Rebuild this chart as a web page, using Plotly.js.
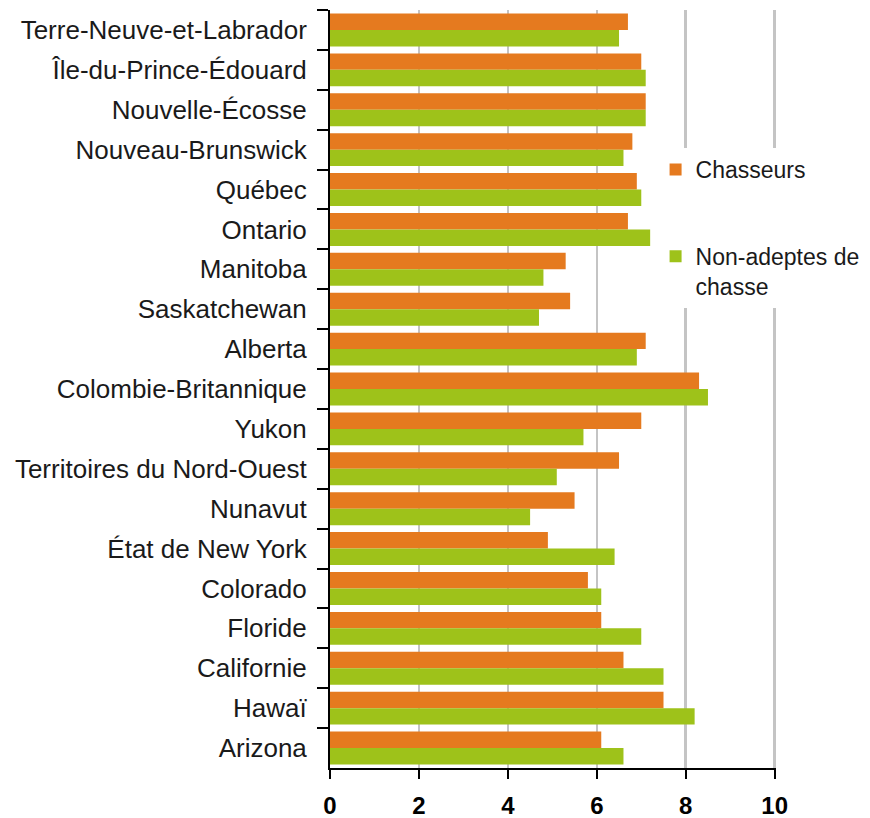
<!DOCTYPE html>
<html>
<head>
<meta charset="utf-8">
<script src="https://cdn.plot.ly/plotly-3.0.1.min.js"></script>
<style>
  html, body { margin: 0; padding: 0; background: #ffffff; }
  #chart { width: 870px; height: 818px; }
</style>
</head>
<body>
<div id="chart"></div>
<script>
const categories = [
  "Terre-Neuve-et-Labrador",
  "Île-du-Prince-Édouard",
  "Nouvelle-Écosse",
  "Nouveau-Brunswick",
  "Québec",
  "Ontario",
  "Manitoba",
  "Saskatchewan",
  "Alberta",
  "Colombie-Britannique",
  "Yukon",
  "Territoires du Nord-Ouest",
  "Nunavut",
  "État de New York",
  "Colorado",
  "Floride",
  "Californie",
  "Hawaï",
  "Arizona"
];
const chasseurs = [6.7, 7.0, 7.1, 6.8, 6.9, 6.7, 5.3, 5.4, 7.1, 8.3, 7.0, 6.5, 5.5, 4.9, 5.8, 6.1, 6.6, 7.5, 6.1];
const nonAdeptes = [6.5, 7.1, 7.1, 6.6, 7.0, 7.2, 4.8, 4.7, 6.9, 8.5, 5.7, 5.1, 4.5, 6.4, 6.1, 7.0, 7.5, 8.2, 6.6];
const seriesNames = ["Chasseurs", "Non-adeptes de<br>chasse"];
const xTicks = [0, 2, 4, 6, 8, 10];

const traces = [
  {
    type: "bar", orientation: "h",
    x: chasseurs, y: categories,
    name: seriesNames[0], legendgroup: "g1",
    marker: { color: "#E57A1F" },
    hoverinfo: "x+y"
  },
  {
    type: "bar", orientation: "h",
    x: nonAdeptes, y: categories,
    name: seriesNames[1], legendgroup: "g2",
    marker: { color: "#9EC21A" },
    hoverinfo: "x+y"
  }
];

const layout = {
  width: 870, height: 818,
  margin: { l: 330, r: 94, t: 10, b: 50, autoexpand: false },
  paper_bgcolor: "#ffffff",
  plot_bgcolor: "#ffffff",
  font: { family: "Liberation Sans, Arial, sans-serif", color: "#1a1a1a" },
  barmode: "group",
  bargap: 0.175,
  bargroupgap: 0,
  showlegend: true,
  legend: {
    x: 0.73, xanchor: "left",
    y: 0.818, yanchor: "top",
    bgcolor: "#ffffff",
    borderwidth: 0,
    font: { size: 23, color: "#1a1a1a" },
    traceorder: "grouped",
    tracegroupgap: 54,
    valign: "top"
  },
  xaxis: {
    range: [0, 10.03],
    tickvals: xTicks,
    ticktext: xTicks.map(String),
    tickfont: { size: 24, family: "Liberation Sans, Arial, sans-serif", weight: "bold", color: "#000000" },
    ticks: "outside", ticklen: 9, tickwidth: 2, tickcolor: "#000000",
    ticklabelstandoff: 6,
    showline: true, linecolor: "#000000", linewidth: 2,
    showgrid: true, gridcolor: "#c4c4c4", gridwidth: 2.5,
    zeroline: false,
    fixedrange: true
  },
  yaxis: {
    type: "category",
    categoryorder: "array",
    categoryarray: categories,
    range: [18.5, -0.5],
    tickfont: { size: 26, color: "#1a1a1a" },
    ticks: "outside", ticklen: 11, tickwidth: 2, tickcolor: "#000000",
    tickson: "boundaries",
    ticklabelstandoff: 16,
    showline: true, linecolor: "#000000", linewidth: 2,
    showgrid: false, zeroline: false,
    fixedrange: true
  }
};

Plotly.newPlot("chart", traces, layout, { displayModeBar: false, staticPlot: true });
</script>
</body>
</html>
